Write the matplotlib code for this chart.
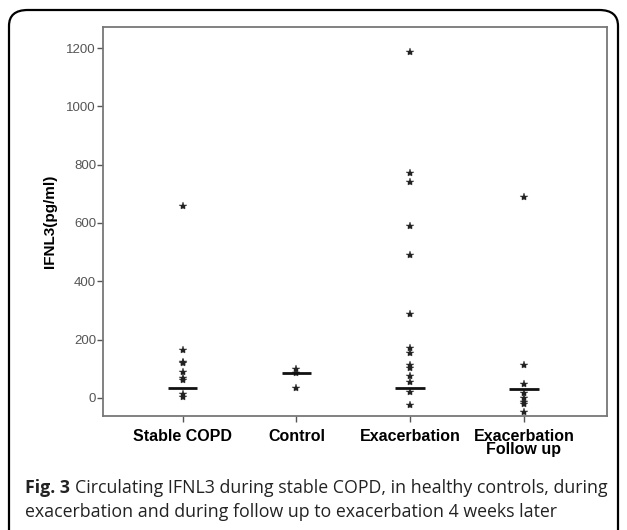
import matplotlib
matplotlib.use("Agg")
import matplotlib.pyplot as plt
from matplotlib.patches import FancyBboxPatch

# values (pg/ml)
groups = ["Stable COPD", "Control", "Exacerbation", "Exacerbation\nFollow up"]
stable_copd = [660, 165, 124, 120, 90, 69, 62, 14, 5]
control = [33, 85, 100]
exacerbation = [1185, 770, 740, 590, 490, 287, 170, 155, 113, 102, 75, 56, 22, -24]
follow_up = [690, 113, 48, 17, 0, -13, -21, -47]
medians = [33, 85, 33, 31]
yticks = [0, 200, 400, 600, 800, 1000, 1200]

series = [stable_copd, control, exacerbation, follow_up]

fig = plt.figure(figsize=(6.27, 5.30), dpi=100)
ax = fig.add_axes([0.1643, 0.215, 0.8037, 0.734])

for i, vals in enumerate(series):
  xs = [i + 1] * len(vals)
  ax.plot(xs, vals, linestyle="none", marker="*", markersize=6,
          color="#222222", markeredgewidth=0.3)
  ax.plot([i + 1 - 0.13, i + 1 + 0.13], [medians[i], medians[i]],
          color="#111111", linewidth=2, solid_capstyle="butt")

ax.set_xlim(0.30, 4.73)
ax.set_ylim(-62, 1272)
ax.set_xticks(range(1, len(groups) + 1))
ax.set_xticklabels(groups, fontsize=11.5, fontweight="bold",
                   family="Liberation Sans", linespacing=0.9)
ax.set_yticks(yticks)
ax.set_yticklabels([str(t) for t in yticks], fontsize=9.5,
                   family="Liberation Sans", color="#555555")
ax.tick_params(axis="both", direction="out", length=4, width=1, color="#555555")
ax.tick_params(axis="x", pad=5)
ax.tick_params(axis="y", pad=1)
for s in ax.spines.values():
  s.set_color("#777777")
  s.set_linewidth(1.3)
ax.set_ylabel("IFNL3(pg/ml)", fontsize=11, fontweight="bold",
              family="Liberation Sans", labelpad=7)

# outer rounded frame, open at the bottom
frame = FancyBboxPatch((9 / 627, -0.05), (618 - 9) / 627, 1 - 10 / 530 + 0.05,
                       boxstyle="round,pad=0,rounding_size=0.03",
                       transform=fig.transFigure, fill=False,
                       edgecolor="black", linewidth=1.6, clip_on=False)
fig.patches.append(frame)

# caption
cap_font = "Open Sans"
cap_size = 12.8
t1 = fig.text(25 / 627, 1 - 488 / 530, "Fig. 3", fontsize=cap_size, fontweight="bold",
              family=cap_font, va="center", color="#222222")
fig.canvas.draw()
bb = t1.get_window_extent(renderer=fig.canvas.get_renderer())
x_after = (bb.x1 + 5) / fig.bbox.width
fig.text(x_after, 1 - 488 / 530,
         "Circulating IFNL3 during stable COPD, in healthy controls, during",
         fontsize=cap_size, family=cap_font, va="center", color="#222222")
fig.text(25 / 627, 1 - 512 / 530,
         "exacerbation and during follow up to exacerbation 4 weeks later",
         fontsize=cap_size, family=cap_font, va="center", color="#222222")

fig.savefig("out.png", dpi=100)
